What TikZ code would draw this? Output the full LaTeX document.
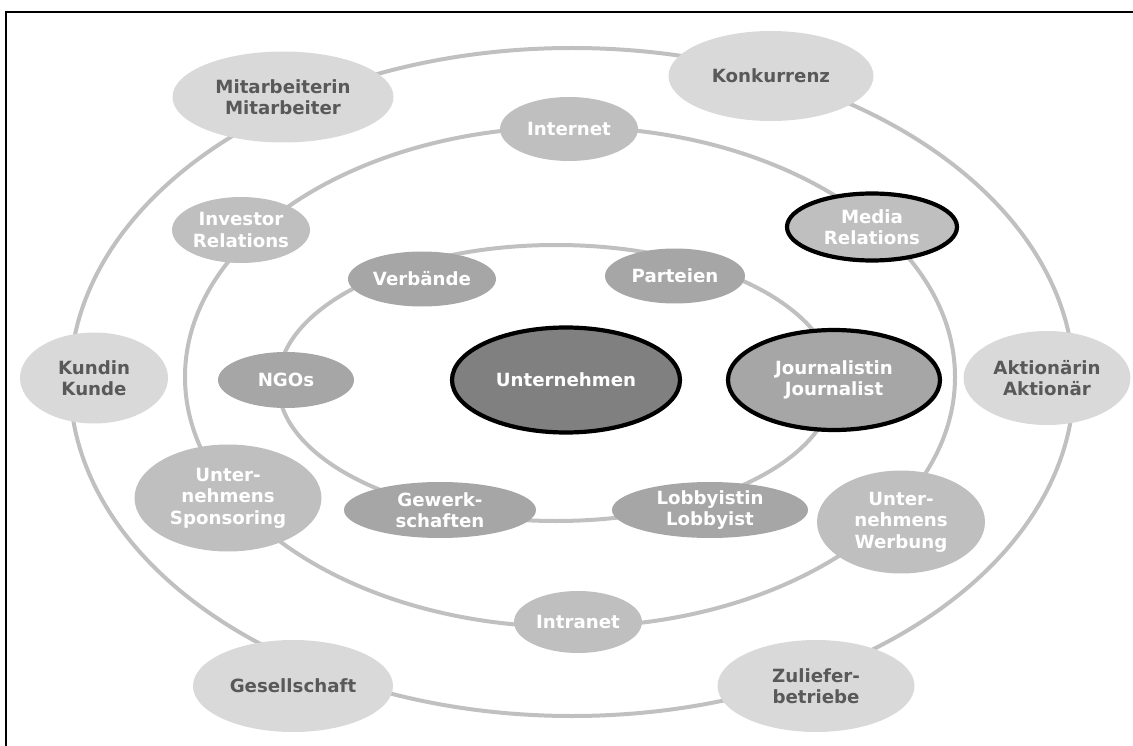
\documentclass[tikz,border=0pt]{standalone}
\usepackage{fontspec}
\setmainfont{DejaVu Sans}
\usetikzlibrary{shapes.geometric}
\definecolor{ringgray}{HTML}{C0C0C0}
\definecolor{outerfill}{HTML}{D9D9D9}
\definecolor{midfill}{HTML}{BFBFBF}
\definecolor{innerfill}{HTML}{A6A6A6}
\definecolor{corefill}{HTML}{808080}
\definecolor{darktext}{HTML}{595959}
\begin{document}
\begin{tikzpicture}[x={(1pt,0)},y={(0,-1pt)},
    ring/.style={draw=ringgray,line width=4pt},
    group/.style={ellipse,inner sep=0pt,align=center,
        font=\fontsize{18.2}{21.5}\selectfont\bfseries},
    outer/.style={group,fill=outerfill,text=darktext},
    middle/.style={group,fill=midfill,text=white},
    inner/.style={group,fill=innerfill,text=white},
    focus/.style={draw=black,line width=4.2pt}]
    \useasboundingbox (0,0) rectangle (1133,746);
    \draw[line width=2.5pt] (6,746) -- (6,12) -- (1133,12);
    % the three rings
    \draw[ring] (572,382) ellipse (502pt and 334pt);
    \draw[ring] (570,377) ellipse (385pt and 250pt);
    \draw[ring] (556,383) ellipse (278pt and 138pt);
    % outer ring
    \foreach \n/\x/\y/\w/\h/\t in {
        mit/283/97/221/91/{Mitarbeiterin\\Mitarbeiter},
        konk/771/76/205/90/{Konkurrenz},
        kund/94/378/148/91/{Kundin\\Kunde},
        akt/1047/378/167/94/{Aktionärin\\Aktionär},
        ges/293/686/200/92/{Gesellschaft},
        zul/816/686/197/92/{Zuliefer-\\betriebe}}{
            \node[outer,minimum width=\w pt,minimum height=\h pt] (\n) at (\x,\y) {\t};
        }
    % middle ring
    \foreach \n/\x/\y/\w/\h/\t in {
        inet/569/129/138/64/{Internet},
        inv/241/230/138/66/{Investor\\Relations},
        spon/228/498/187/107/{Unter-\\nehmens\\Sponsoring},
        werb/901/522/168/103/{Unter-\\nehmens\\Werbung},
        intr/578/622/128/62/{Intranet}}{
            \node[middle,minimum width=\w pt,minimum height=\h pt] (\n) at (\x,\y) {\t};
        }
    \node[middle,focus,minimum width=170pt,minimum height=67pt] (med) at (872,227) {Media\\Relations};
    % inner ring
    \foreach \n/\x/\y/\w/\h/\t in {
        verb/422/279/148/55/{Verbände},
        part/675/276/140/55/{Parteien},
        ngo/286/380/136/56/{NGOs},
        gew/440/510/192/56/{Gewerk-\\schaften},
        lob/710/510/196/56/{Lobbyistin\\Lobbyist}}{
            \node[inner,minimum width=\w pt,minimum height=\h pt] (\n) at (\x,\y) {\t};
        }
    \node[inner,focus,minimum width=212pt,minimum height=100pt] (jour) at (834,380) {Journalistin\\Journalist};
    \node[group,focus,fill=corefill,text=white,minimum width=228pt,minimum height=105pt] (unt) at (566,380) {Unternehmen};
\end{tikzpicture}
\end{document}
